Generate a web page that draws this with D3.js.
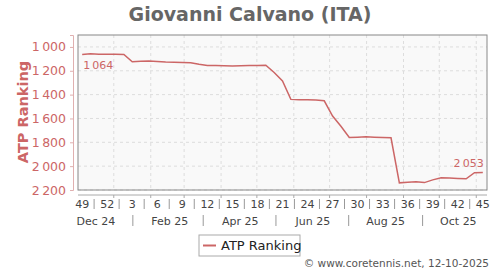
<!DOCTYPE html>
<html>
<head>
<meta charset="utf-8">
<script src="https://cdn.jsdelivr.net/npm/d3@7"></script>
<style>
  body { margin: 0; background: #fff; }
  text { font-family: "DejaVu Sans", sans-serif; }
</style>
</head>
<body>
<div id="chart"></div>
<script>
// weekly ATP ranking, week 49 of 2024 to week 45 of 2025
let weeks = [49, 50, 51, 52, 1, 2, 3, 4, 5, 6, 7, 8, 9, 10, 11, 12, 13, 14, 15, 16, 17, 18, 19, 20,
  21, 22, 23, 24, 25, 26, 27, 28, 29, 30, 31, 32, 33, 34, 35, 36, 37, 38, 39, 40, 41, 42, 43, 44, 45];
let ranking = [1064, 1058, 1061, 1062, 1062, 1064, 1124, 1121, 1118, 1122, 1127, 1129, 1131, 1133,
  1145, 1155, 1155, 1157, 1159, 1158, 1156, 1155, 1153, 1215, 1285, 1440, 1443, 1443, 1445, 1452,
  1580, 1665, 1760, 1757, 1753, 1757, 1760, 1762, 2140, 2135, 2130, 2138, 2115, 2098, 2100, 2103,
  2106, 2055, 2053];
let yTicks = [1000, 1200, 1400, 1600, 1800, 2000, 2200];
let monthLabels = ["Dec 24", "Feb 25", "Apr 25", "Jun 25", "Aug 25", "Oct 25"];

let red = "#cc6666";
let svgWidth = 500, svgHeight = 270;
let margin = { top: 35, right: 13, bottom: 80, left: 78 };
let chartWidth = svgWidth - margin.left - margin.right;
let chartHeight = svgHeight - margin.top - margin.bottom;

// first monday of week 49, 2024
let start = new Date(Date.UTC(2024, 11, 2));
let end = d3.utcWeek.offset(start, weeks.length);
let data = weeks.map(function(w, i) {
  // points sit in the middle of their week
  return { week: w, date: d3.utcHour.offset(d3.utcWeek.offset(start, i), 84), value: ranking[i] };
});

let xScale = d3.scaleUtc().domain([start, end]).range([0, chartWidth]);
let yScale = d3.scaleLinear().domain([900, 2200]).range([0, chartHeight]);

let fmt = d3.formatLocale({ decimal: ".", thousands: "\u2009", grouping: [3], currency: ["", ""] }).format(",d");

let svg = d3.select("#chart").append("svg")
  .attr("width", svgWidth)
  .attr("height", svgHeight);

svg.append("text")
  .attr("x", 250).attr("y", 21)
  .attr("text-anchor", "middle")
  .style("font-size", "19px").style("font-weight", "bold")
  .attr("fill", "#666")
  .text("Giovanni Calvano (ITA)");

let g = svg.append("g").attr("transform", "translate(" + margin.left + "," + margin.top + ")");

g.append("rect")
  .attr("width", chartWidth).attr("height", chartHeight)
  .attr("fill", "#f9f9f9");

// grid
let months = d3.utcMonth.range(d3.utcMonth.ceil(start), end);
g.selectAll(".vgrid").data(months).enter().append("line")
  .attr("x1", d => xScale(d)).attr("x2", d => xScale(d))
  .attr("y1", 0).attr("y2", chartHeight)
  .attr("stroke", "#ddd").attr("stroke-dasharray", "3,3");
g.selectAll(".hgrid").data(yTicks).enter().append("line")
  .attr("x1", 0).attr("x2", chartWidth)
  .attr("y1", d => yScale(d)).attr("y2", d => yScale(d))
  .attr("stroke", "#ddd").attr("stroke-dasharray", "3,3");

g.append("rect")
  .attr("width", chartWidth).attr("height", chartHeight)
  .attr("fill", "none").attr("stroke", "#888");

// y axis
let yAxis = g.append("g")
  .attr("transform", "translate(-5,0)")
  .call(d3.axisLeft(yScale).tickValues(yTicks).tickFormat(fmt).tickSize(3).tickPadding(4));
yAxis.select(".domain").attr("stroke", "#e0b0b0");
yAxis.selectAll(".tick line").attr("stroke", "#e0b0b0");
yAxis.selectAll("text").attr("fill", red).style("font-size", "12.5px");

svg.append("text")
  .attr("transform", "translate(28,112) rotate(-90)")
  .attr("text-anchor", "middle")
  .style("font-size", "14.5px").style("font-weight", "bold")
  .attr("fill", red)
  .text("ATP Ranking");

// x axis
let xg = g.append("g").attr("transform", "translate(0," + (chartHeight + 5) + ")");
xg.append("line").attr("x1", 0).attr("x2", chartWidth).attr("stroke", "#aaa");
xg.selectAll(".mtick").data(months).enter().append("line")
  .attr("x1", d => xScale(d)).attr("x2", d => xScale(d))
  .attr("y1", 0).attr("y2", 3).attr("stroke", "#aaa");

let labeled = data.filter((d, i) => i % 3 === 0);
xg.selectAll(".wlabel").data(labeled).enter().append("text")
  .attr("x", d => xScale(d.date)).attr("y", 13)
  .attr("text-anchor", "middle")
  .style("font-size", "11px").attr("fill", "#444")
  .text(d => d.week);
xg.selectAll(".wsep").data(labeled.slice(1)).enter().append("line")
  .attr("x1", d => xScale(d3.utcDay.offset(d.date, -10.5)))
  .attr("x2", d => xScale(d3.utcDay.offset(d.date, -10.5)))
  .attr("y1", 4).attr("y2", 14).attr("stroke", "#999");

let monthDates = monthLabels.map((m, i) => new Date(Date.UTC(2024, 11 + i * 2, 17)));
xg.selectAll(".mlabel").data(monthLabels).enter().append("text")
  .attr("x", (d, i) => xScale(monthDates[i])).attr("y", 30)
  .attr("text-anchor", "middle")
  .style("font-size", "11px").attr("fill", "#444")
  .text(d => d);
xg.selectAll(".msep").data(monthDates.slice(1)).enter().append("line")
  .attr("x1", d => xScale(d3.utcMonth.offset(d, -1)))
  .attr("x2", d => xScale(d3.utcMonth.offset(d, -1)))
  .attr("y1", 20).attr("y2", 31).attr("stroke", "#999");

// line
let line = d3.line().x(d => xScale(d.date)).y(d => yScale(d.value));
g.append("path").datum(data)
  .attr("d", line)
  .attr("fill", "none").attr("stroke", red).attr("stroke-width", 1.5);

// first and last values
let first = data[0], last = data[data.length - 1];
g.append("text")
  .attr("x", xScale(first.date) + 1).attr("y", yScale(first.value) + 14)
  .style("font-size", "11px").attr("fill", red)
  .text(fmt(first.value));
g.append("text")
  .attr("x", xScale(last.date) + 1).attr("y", yScale(last.value) - 5)
  .attr("text-anchor", "end")
  .style("font-size", "11px").attr("fill", red)
  .text(fmt(last.value));

// legend
let lg = svg.append("g").attr("transform", "translate(199,235)");
lg.append("rect").attr("width", 101).attr("height", 21)
  .attr("fill", "#fff").attr("stroke", "#aaa");
lg.append("line").attr("x1", 4).attr("x2", 17).attr("y1", 10.5).attr("y2", 10.5)
  .attr("stroke", red).attr("stroke-width", 2);
lg.append("text").attr("x", 22).attr("y", 15)
  .style("font-size", "13px").attr("fill", "#222")
  .text("ATP Ranking");

svg.append("text")
  .attr("x", 489).attr("y", 267)
  .attr("text-anchor", "end")
  .style("font-size", "10.5px").attr("fill", "#555")
  .text("\u00a9 www.coretennis.net, 12-10-2025");
</script>
</body>
</html>
